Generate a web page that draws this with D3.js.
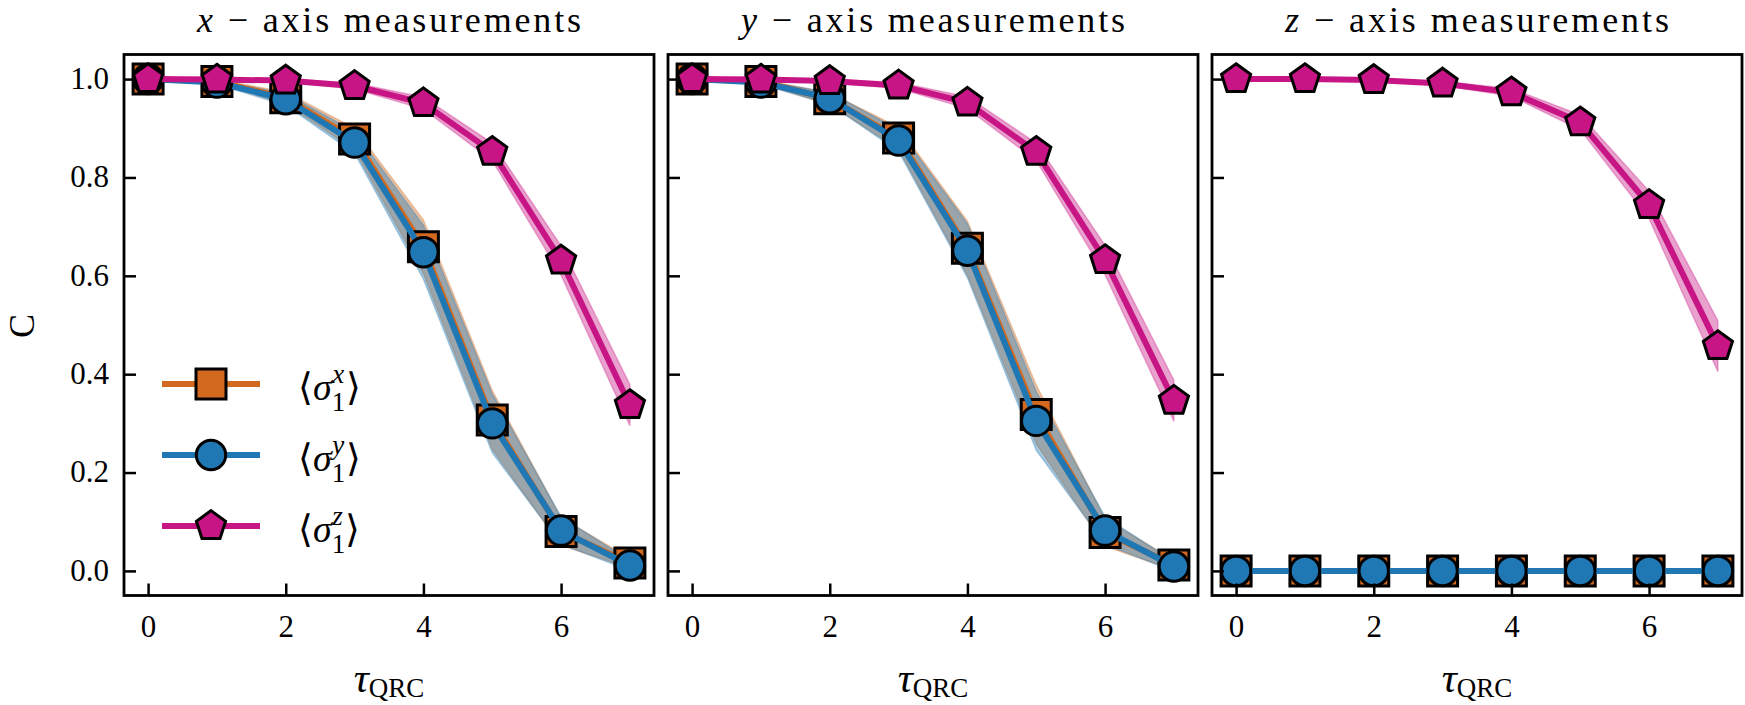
<!DOCTYPE html>
<html>
<head>
<meta charset="utf-8">
<script src="https://cdn.jsdelivr.net/npm/d3@7"></script>
<style>
  body { margin: 0; background: white; }
</style>
</head>
<body>
<div id="canvas"></div>
<script>
"use strict"

let svgWidth = 1745;
let svgHeight = 705;

/* data: tau steps and C values */
let tau = [0, 1, 2, 3, 4, 5, 6, 7];
let xTickValues = [0, 2, 4, 6];
let yTickValues = [0.0, 0.2, 0.4, 0.6, 0.8, 1.0];
let panelTitles = ["x", "y", "z"];

/* x-axis measurements */
let xMeasSx = [1.000, 0.995, 0.962, 0.878, 0.659, 0.307, 0.080, 0.016];
let xMeasSy = [1.000, 0.993, 0.959, 0.871, 0.648, 0.300, 0.082, 0.011];
let xMeasSz = [1.000, 0.999, 0.997, 0.986, 0.951, 0.852, 0.631, 0.337];

/* y-axis measurements */
let yMeasSx = [1.000, 0.995, 0.960, 0.880, 0.656, 0.318, 0.078, 0.012];
let yMeasSy = [1.000, 0.993, 0.961, 0.875, 0.651, 0.305, 0.082, 0.009];
let yMeasSz = [1.000, 0.999, 0.996, 0.987, 0.952, 0.852, 0.632, 0.346];

/* z-axis measurements */
let zMeasSx = [0, 0, 0, 0, 0, 0, 0, 0];
let zMeasSy = [0, 0, 0, 0, 0, 0, 0, 0];
let zMeasSz = [1.000, 1.000, 0.998, 0.991, 0.973, 0.912, 0.744, 0.457];

/* half widths of the shaded bands */
let spreadSxSy = [0.000, 0.004, 0.012, 0.022, 0.055, 0.060, 0.028, 0.010];
let spreadSz = [0.000, 0.001, 0.003, 0.006, 0.012, 0.018, 0.030, 0.042];
let spreadSzZ = [0.000, 0.001, 0.002, 0.004, 0.008, 0.015, 0.028, 0.052];
let spreadNone = [0, 0, 0, 0, 0, 0, 0, 0];

let colors = {sx: "#d2691e", sy: "#1f77b4", sz: "#c71585"};

/* pick a serif face that is really installed */
function hasFont(name) {
    let ctx = document.createElement("canvas").getContext("2d");
    let s = "abcdefghijklmnopqrstuvwxyz ABCDEFGHIJ 0123456789";
    let found = false;
    ["monospace", "sans-serif"].forEach(function(base) {
        ctx.font = "40px " + base;
        let w0 = ctx.measureText(s).width;
        ctx.font = "40px '" + name + "', " + base;
        if (ctx.measureText(s).width != w0) found = true;
    });
    return found;
}
let serifCandidates = ["Liberation Serif", "Times New Roman", "Tinos", "Nimbus Roman",
    "Nimbus Roman No9 L", "DejaVu Serif", "Noto Serif", "FreeSerif", "STIX Two Text"];
let fontName = serifCandidates.find(hasFont);
let fontStack = (fontName ? "'" + fontName + "', " : "") + "serif";

/* pentagon marker for d3.symbol */
let symbolPentagon = {
    draw: function(context, size) {
        let r = Math.sqrt(size / 2.3776);
        for (let i = 0; i < 5; i++) {
            let a = -Math.PI / 2 + i * 2 * Math.PI / 5;
            if (i == 0) context.moveTo(r * Math.cos(a), r * Math.sin(a));
            else context.lineTo(r * Math.cos(a), r * Math.sin(a));
        }
        context.closePath();
    }
};

let seriesStyle = [
    {key: "sx", sup: "x", color: colors.sx, symbol: d3.symbolSquare, size: 900},
    {key: "sy", sup: "y", color: colors.sy, symbol: d3.symbolCircle, size: 680},
    {key: "sz", sup: "z", color: colors.sz, symbol: symbolPentagon, size: 560}
];

let panels = [
    {sx: xMeasSx, sy: xMeasSy, sz: xMeasSz, spx: spreadSxSy, spy: spreadSxSy, spz: spreadSz},
    {sx: yMeasSx, sy: yMeasSy, sz: yMeasSz, spx: spreadSxSy, spy: spreadSxSy, spz: spreadSz},
    {sx: zMeasSx, sy: zMeasSy, sz: zMeasSz, spx: spreadNone, spy: spreadNone, spz: spreadSzZ}
];

let panelLeft = [124, 668, 1212];
let panelWidth = 530;
let panelTop = 54.5;
let panelBottom = 595.5;

let svg = d3.select("#canvas")
    .append("svg")
    .attr("width", svgWidth)
    .attr("height", svgHeight)
    .style("font-family", fontStack);

svg.append("rect")
    .attr("width", svgWidth)
    .attr("height", svgHeight)
    .attr("fill", "white");

let yScale = d3.scaleLinear()
    .domain([-0.05, 1.05])
    .range([panelBottom, panelTop]);

panels.forEach(function(panel, p) {
    let left = panelLeft[p];
    let xScale = d3.scaleLinear()
        .domain([-0.35, 7.35])
        .range([left, left + panelWidth]);

    let g = svg.append("g");

    /* shaded bands */
    let bandKeys = [["sx", "spx"], ["sy", "spy"], ["sz", "spz"]];
    bandKeys.forEach(function(k) {
        let vals = panel[k[0]];
        let sp = panel[k[1]];
        let area = d3.area()
            .x((d, i) => xScale(tau[i]))
            .y0((d, i) => yScale(vals[i] - sp[i]))
            .y1((d, i) => yScale(vals[i] + sp[i]));
        g.append("path")
            .attr("d", area(vals))
            .attr("fill", colors[k[0]])
            .attr("fill-opacity", 0.4)
            .attr("stroke", colors[k[0]])
            .attr("stroke-opacity", 0.3)
            .attr("stroke-width", 1.5);
    });

    /* lines and markers */
    seriesStyle.forEach(function(s) {
        let vals = panel[s.key];
        let line = d3.line()
            .x((d, i) => xScale(tau[i]))
            .y(d => yScale(d));
        g.append("path")
            .attr("d", line(vals))
            .attr("fill", "none")
            .attr("stroke", s.color)
            .attr("stroke-width", 6)
            .attr("stroke-linejoin", "round");

        g.selectAll("path.m" + s.key)
            .data(vals)
            .join("path")
            .attr("class", "m" + s.key)
            .attr("transform", (d, i) => "translate(" + xScale(tau[i]) + "," + yScale(d) + ")")
            .attr("d", d3.symbol().type(s.symbol).size(s.size))
            .attr("fill", s.color)
            .attr("stroke", "black")
            .attr("stroke-width", 3)
            .attr("stroke-linejoin", "miter");
    });

    /* axes with inward ticks */
    let xAxis = d3.axisBottom(xScale)
        .tickValues(xTickValues)
        .tickSizeInner(-12)
        .tickSizeOuter(0)
        .tickPadding(19);
    svg.append("g")
        .attr("transform", "translate(0," + panelBottom + ")")
        .call(xAxis)
        .attr("font-family", null)
        .call(a => a.select(".domain").remove())
        .call(a => a.selectAll("line").attr("stroke", "black").attr("stroke-width", 2.5))
        .call(a => a.selectAll("text").attr("font-size", 31).attr("fill", "black"));

    let yAxis = d3.axisLeft(yScale)
        .tickValues(yTickValues)
        .tickSizeInner(-12)
        .tickSizeOuter(0)
        .tickPadding(15)
        .tickFormat(p == 0 ? d3.format(".1f") : "");
    svg.append("g")
        .attr("transform", "translate(" + left + ",0)")
        .call(yAxis)
        .attr("font-family", null)
        .call(a => a.select(".domain").remove())
        .call(a => a.selectAll("line").attr("stroke", "black").attr("stroke-width", 2.5))
        .call(a => a.selectAll("text").attr("font-size", 31).attr("dy", "0.3em").attr("fill", "black"));

    /* frame */
    svg.append("rect")
        .attr("x", left)
        .attr("y", panelTop)
        .attr("width", panelWidth)
        .attr("height", panelBottom - panelTop)
        .attr("fill", "none")
        .attr("stroke", "black")
        .attr("stroke-width", 2.8);

    /* title */
    let title = svg.append("text")
        .attr("x", left + panelWidth / 2)
        .attr("y", 32)
        .attr("text-anchor", "middle")
        .attr("font-size", 36)
        .attr("textLength", 384)
        .attr("lengthAdjust", "spacing");
    title.append("tspan").attr("font-style", "italic").text(panelTitles[p]);
    title.append("tspan").text(" \u2212 axis measurements");

    /* x label */
    let xl = svg.append("text")
        .attr("x", left + panelWidth / 2)
        .attr("y", 692)
        .attr("text-anchor", "middle");
    xl.append("tspan").attr("font-size", 42).attr("font-style", "italic").text("\u03c4");
    xl.append("tspan").attr("font-size", 27).attr("dy", 5).text("QRC");
});

/* y label */
svg.append("text")
    .attr("transform", "translate(34,326) rotate(-90)")
    .attr("text-anchor", "middle")
    .attr("font-size", 36)
    .text("C");

/* legend */
let legendY = [384, 455, 526];
seriesStyle.forEach(function(s, i) {
    svg.append("line")
        .attr("x1", 162)
        .attr("x2", 260)
        .attr("y1", legendY[i])
        .attr("y2", legendY[i])
        .attr("stroke", s.color)
        .attr("stroke-width", 6);
    svg.append("path")
        .attr("transform", "translate(211," + legendY[i] + ")")
        .attr("d", d3.symbol().type(s.symbol).size(s.size)())
        .attr("fill", s.color)
        .attr("stroke", "black")
        .attr("stroke-width", 3);

    let t = svg.append("text")
        .attr("x", 298)
        .attr("y", legendY[i] + 16)
        .attr("font-size", 38);
    t.append("tspan").text("\u27e8");
    t.append("tspan").attr("font-style", "italic").text("\u03c3");
    t.append("tspan").attr("font-size", 27).attr("dy", 11).text("1");
    t.append("tspan").attr("font-size", 27).attr("font-style", "italic").attr("dx", -13).attr("dy", -28).text(s.sup);
    t.append("tspan").attr("dx", 2).attr("dy", 17).text("\u27e9");
});
</script>
</body>
</html>
